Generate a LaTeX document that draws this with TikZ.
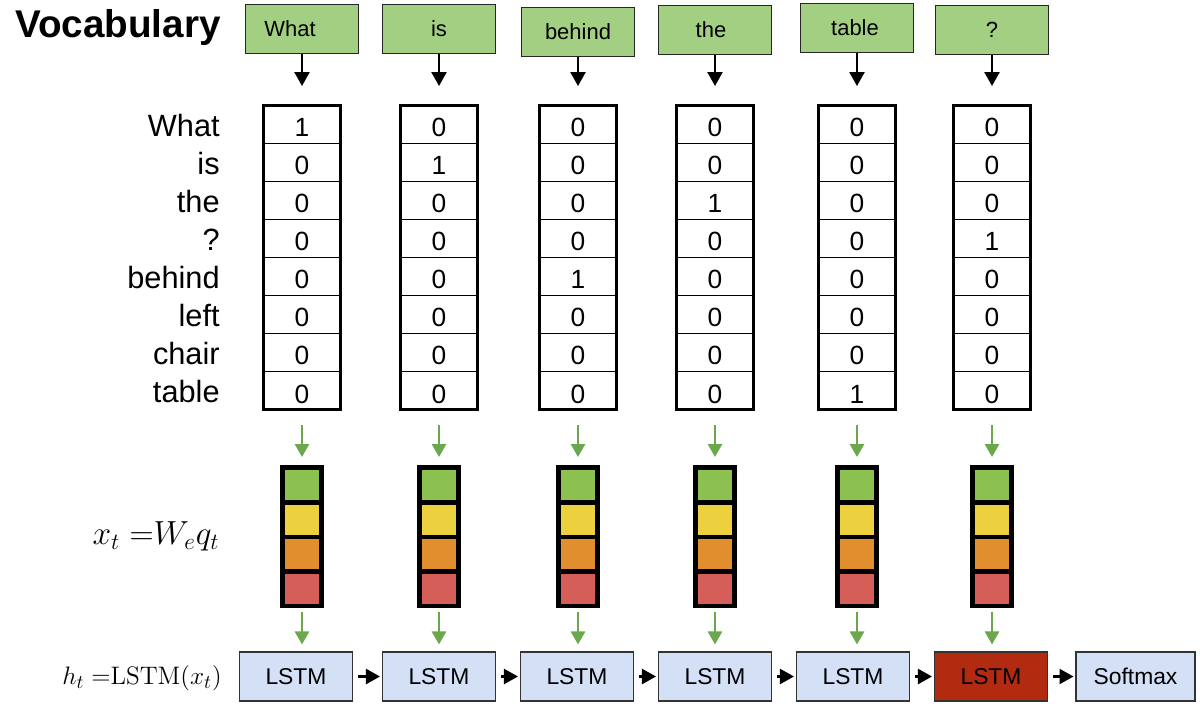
\documentclass[tikz,border=0pt]{standalone}
\usepackage[no-math]{fontspec}
\setmainfont{Liberation Sans}
\usetikzlibrary{arrows.meta,positioning,calc}
\definecolor{wordgreen}{HTML}{A3CF82}
\definecolor{embgreen}{HTML}{8CC152}
\definecolor{embyellow}{HTML}{ECD03E}
\definecolor{emborange}{HTML}{E08E2E}
\definecolor{embred}{HTML}{D65E58}
\definecolor{lstmblue}{HTML}{D4E0F6}
\definecolor{lstmred}{HTML}{B22A10}
\definecolor{arrgreen}{HTML}{6BA84C}

\begin{document}
\begin{tikzpicture}[x=0.02cm, y=-0.02cm,
  wordbox/.style={draw=black!85, fill=wordgreen, line width=0.6pt, minimum width=2.26cm, minimum height=0.98cm, inner sep=0pt, font=\fontsize{12.5}{15}\selectfont},
  vecbox/.style={draw, line width=1.7pt, minimum width=1.54cm, minimum height=6.1cm, inner sep=0pt, outer sep=0pt},
  embbox/.style={draw, fill=black, line width=0.6pt, minimum width=0.84cm, minimum height=2.82cm, inner sep=0pt, outer sep=0pt},
  lstmbox/.style={draw=black!80, fill=lstmblue, line width=0.6pt, minimum width=2.26cm, minimum height=0.98cm, inner sep=0pt, font=\fontsize{13}{15}\selectfont},
  vocab/.style={anchor=east, inner sep=0pt, font=\fontsize{17.5}{20}\selectfont},
  bitlabel/.style={inner sep=0pt, font=\fontsize{15}{18}\selectfont},
  blackarr/.style={-{Triangle[width=0.3cm, length=0.28cm]}, line width=1.3pt},
  greenarr/.style={arrgreen, -{Triangle[width=0.28cm, length=0.26cm]}, line width=1.5pt},
]
\useasboundingbox (0,0) rectangle (1200,706);

% title and vocabulary words
\node[anchor=west, font=\fontsize{22}{26}\selectfont\bfseries] (title) at (9,28) {Vocabulary};
\foreach \r/\vw in {1/What,2/is,3/the,4/?,5/behind,6/left,7/chair,8/table} {
  \pgfmathsetmacro{\yv}{105+(\r-0.5)*38.125+1}
  \node[vocab] (voc\r) at (220,\yv) {\vw};
}
\node[anchor=east, inner sep=0pt, scale=1.1, transform shape, font=\fontsize{18}{21}\selectfont] (xlab) at (220,536) {$x_t\;{=}W_eq_t$};
\node[anchor=east, inner sep=0pt, font=\fontsize{15.5}{18}\selectfont] (hlab) at (222,678) {$h_t\;{=}\mathrm{LSTM}(x_t)$};

% one column per word: input, one-hot vector, embedding, LSTM
\foreach \i/\word/\xc/\yc/\hot/\dx in {
  1/What/302/29/1/-12,
  2/is/439/29/2/0,
  3/behind/578/32/5/0,
  4/the/715/30/3/-4,
  5/table/857/28/8/-2,
  6/?/992/30/4/0} {
  \node[wordbox] (w\i) at (\xc,\yc) {};
  \node[inner sep=0pt, font=\fontsize{12.5}{15}\selectfont] (t\i) at ($(w\i.center)+(\dx,0)$) {\word};
  \node[vecbox] (v\i) at (\xc,257.5) {};
  \foreach \r in {1,...,8} {
    \pgfmathsetmacro{\yr}{105+(\r-0.5)*38.125+3}
    \ifnum\r=\hot \def\bit{1}\else\def\bit{0}\fi
    \node[bitlabel] (b\i-\r) at (\xc,\yr) {\bit};
  }
  \foreach \r in {1,...,7} {
    \pgfmathsetmacro{\yl}{\r*38.125}
    \draw[line width=0.6pt] ($(v\i.north west)+(0,\yl)$) -- ($(v\i.north east)+(0,\yl)$);
  }
  \node[embbox] (e\i) at (\xc,536.5) {};
  \foreach \k/\cc in {0/embgreen,1/embyellow,2/emborange,3/embred} {
    \fill[\cc] ($(e\i.north west)+(4,4+\k*34.5)$) rectangle +(34,30);
  }
  \draw[blackarr, shorten >=0.38cm] (w\i) -- (v\i);
  \draw[greenarr, shorten <=0.3cm, shorten >=0.18cm] (v\i) -- (e\i);
}

% LSTM chain
\foreach \i/\xl in {1/296,2/439,3/577,4/715,5/853} {
  \node[lstmbox] (l\i) at (\xl,676.5) {LSTM};
}
\node[lstmbox, fill=lstmred] (l6) at (991,676.5) {LSTM};
\node[lstmbox, minimum width=2.38cm] (soft) at (1135.5,676.5) {Softmax};
\foreach \i in {1,...,6} {
  \draw[greenarr, shorten <=0.1cm, shorten >=0.14cm] (e\i.south) -- (e\i.south |- l\i.north);
}
\foreach \i/\j in {1/2,2/3,3/4,4/5,5/6} {
  \draw[blackarr, shorten <=0.1cm, shorten >=0.04cm] (l\i) -- (l\j);
}
\draw[blackarr, shorten <=0.1cm, shorten >=0.04cm] (l6) -- (soft);
\end{tikzpicture}
\end{document}
